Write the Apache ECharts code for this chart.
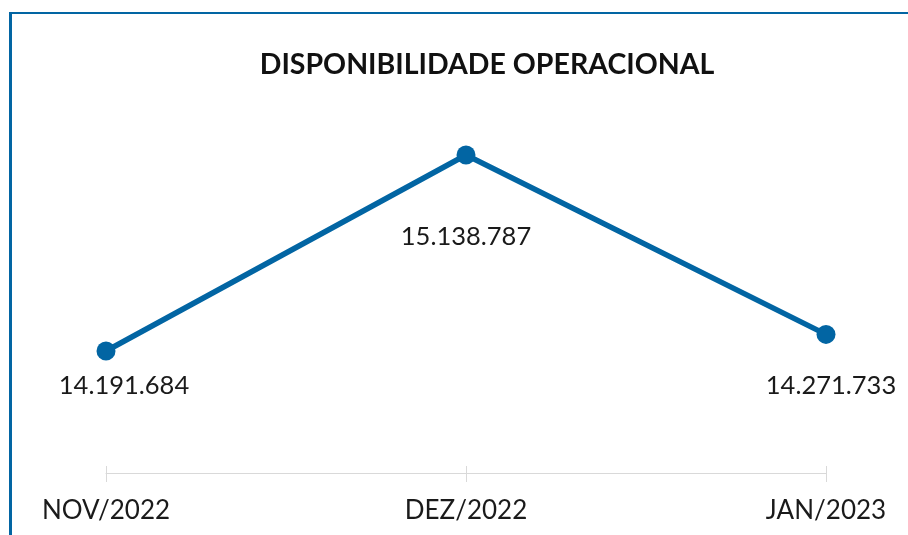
<!DOCTYPE html>
<html>
<head>
<meta charset="utf-8">
<script src="https://cdn.jsdelivr.net/npm/echarts@6/dist/echarts.min.js"></script>
<style>
  html, body { margin: 0; padding: 0; background: #fff; }
  #chart { width: 908px; height: 535px; }
</style>
</head>
<body>
<div id="chart"></div>
<script>
// dados do gráfico
var meses = ['NOV/2022', 'DEZ/2022', 'JAN/2023']
var disponibilidade = [14191684, 15138787, 14271733]
// deslocamento dos rótulos (como no Excel)
var rotuloOffset = [[18, 35], [0, 82], [5, 51]]

var azul = '#0265a3'
var fonte = 'Lato, "Noto Sans", sans-serif'

function formata (v) {
  return String(v).replace(/\B(?=(\d{3})+(?!\d))/g, '.')
}

var pontos = []
for (var i = 0; i < disponibilidade.length; i++) {
  pontos.push({
    value: disponibilidade[i],
    label: { offset: rotuloOffset[i] }
  })
}

var chart = echarts.init(document.getElementById('chart'))
chart.setOption({
  animation: false,
  title: {
    text: 'DISPONIBILIDADE OPERACIONAL',
    left: 482,
    textAlign: 'center',
    top: 45,
    textStyle: {
      fontFamily: fonte,
      fontWeight: 'bold',
      fontSize: 28.5,
      color: '#111'
    }
  },
  graphic: [
    { type: 'rect', shape: { x: 9, y: 12, width: 3, height: 530 }, style: { fill: azul } },
    { type: 'rect', shape: { x: 9, y: 12, width: 900, height: 2 }, style: { fill: azul } }
  ],
  grid: { left: 106, right: 82, top: 80, bottom: 62 },
  xAxis: [{
    type: 'category',
    data: meses,
    boundaryGap: false,
    axisLine: { lineStyle: { color: '#d9d9d9', width: 1 } },
    axisTick: { length: 9, lineStyle: { color: '#d9d9d9' } },
    axisLabel: {
      margin: 25,
      fontFamily: fonte,
      fontSize: 26,
      color: '#1a1a1a'
    }
  }, {
    type: 'category',
    data: meses,
    position: 'bottom',
    boundaryGap: false,
    axisLine: { show: false },
    axisTick: { inside: true, length: 7, lineStyle: { color: '#d9d9d9' } },
    axisLabel: { show: false }
  }],
  yAxis: {
    type: 'value',
    min: 13602000,
    max: 15501000,
    show: false,
    splitLine: { show: false }
  },
  series: [{
    type: 'line',
    data: pontos,
    symbol: 'circle',
    symbolSize: 19,
    lineStyle: { color: azul, width: 5.5 },
    itemStyle: { color: azul },
    label: {
      show: true,
      position: 'inside',
      fontFamily: fonte,
      fontSize: 25.5,
      color: '#1a1a1a',
      formatter: function (p) { return formata(p.value) }
    }
  }]
})
</script>
</body>
</html>
